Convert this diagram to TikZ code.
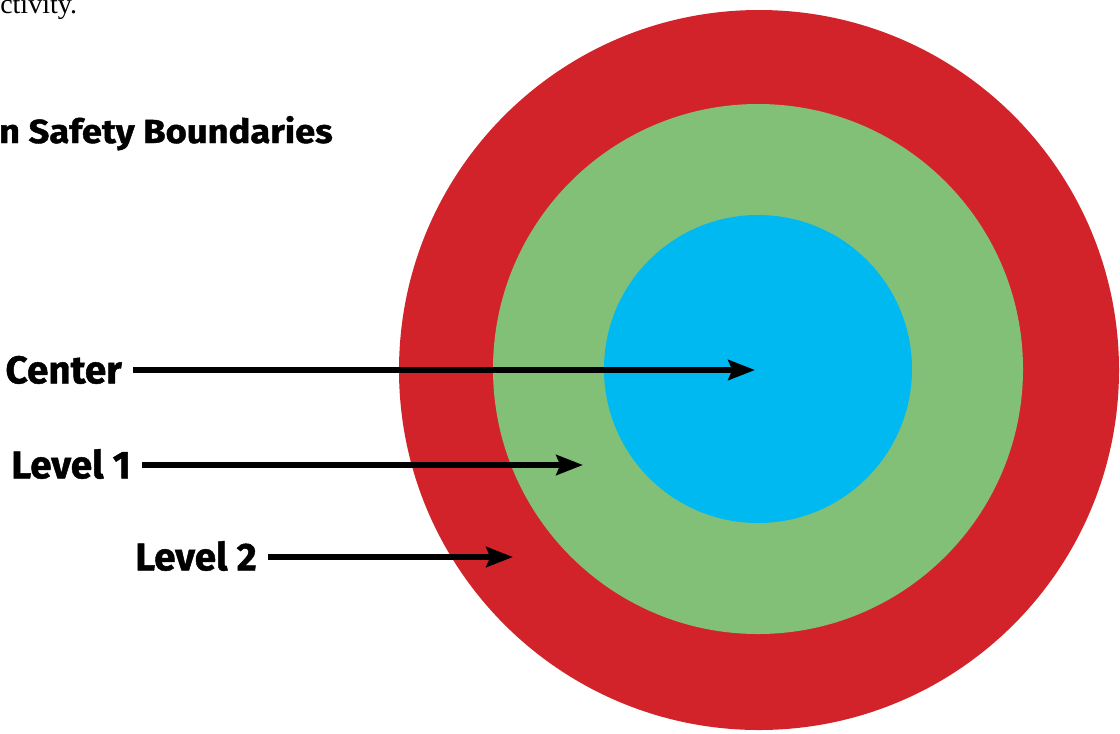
\documentclass[tikz,border=0pt]{standalone}
\usepackage{fontspec}
\setmainfont{Liberation Serif}
\newfontfamily\labelfont{Fira Sans}[BoldFeatures={FakeBold=1.2}]
\newfontfamily\titlefont{Fira Sans}[FakeStretch=1.09, BoldFeatures={FakeBold=1.2}]
\usepackage{xcolor}
\usepackage{tikz}
\usetikzlibrary{arrows.meta,positioning,calc}

\definecolor{ringred}{RGB}{210,35,42}
\definecolor{ringgreen}{RGB}{130,192,120}
\definecolor{ringblue}{RGB}{0,185,240}

\begin{document}
\begin{tikzpicture}[
  x=0.75pt, y=-0.75pt,
  lbl/.style={anchor=east, inner xsep=8.25pt, inner ysep=0pt,
    text height=20pt, text depth=0pt, font=\labelfont\bfseries\fontsize{29}{30}\selectfont},
  arr/.style={-{Stealth[length=20pt, width=15pt, inset=3pt]}, line width=4.2pt}
]
  \useasboundingbox (0,0) rectangle (1120,733);
  \clip (0,0) rectangle (1120,733);

  \fill[ringred] (759,370) circle (360);
  \fill[ringgreen] (758,369) circle (265);
  \fill[ringblue] (758,369) circle (154);

  \node[anchor=base west, inner sep=0pt, font=\fontsize{21}{22}\selectfont] (prev) at (0,13) {ctivity.};
  \node[anchor=base east, inner sep=0pt, font=\titlefont\bfseries\fontsize{25}{26}\selectfont] (title) at (333,143) {n Safety Boundaries};

  \coordinate (tipc) at (755,370);
  \coordinate (tipa) at (583,465);
  \coordinate (tipb) at (513,557);

  \node[lbl] (cen) at (133,370) {Center};
  \node[lbl] (lva) at (142,465) {Level 1};
  \node[lbl] (lvb) at (268,557) {Level 2};

  \draw[arr] (cen) -- (tipc);
  \draw[arr] (lva) -- (tipa);
  \draw[arr] (lvb) -- (tipb);
\end{tikzpicture}
\end{document}
